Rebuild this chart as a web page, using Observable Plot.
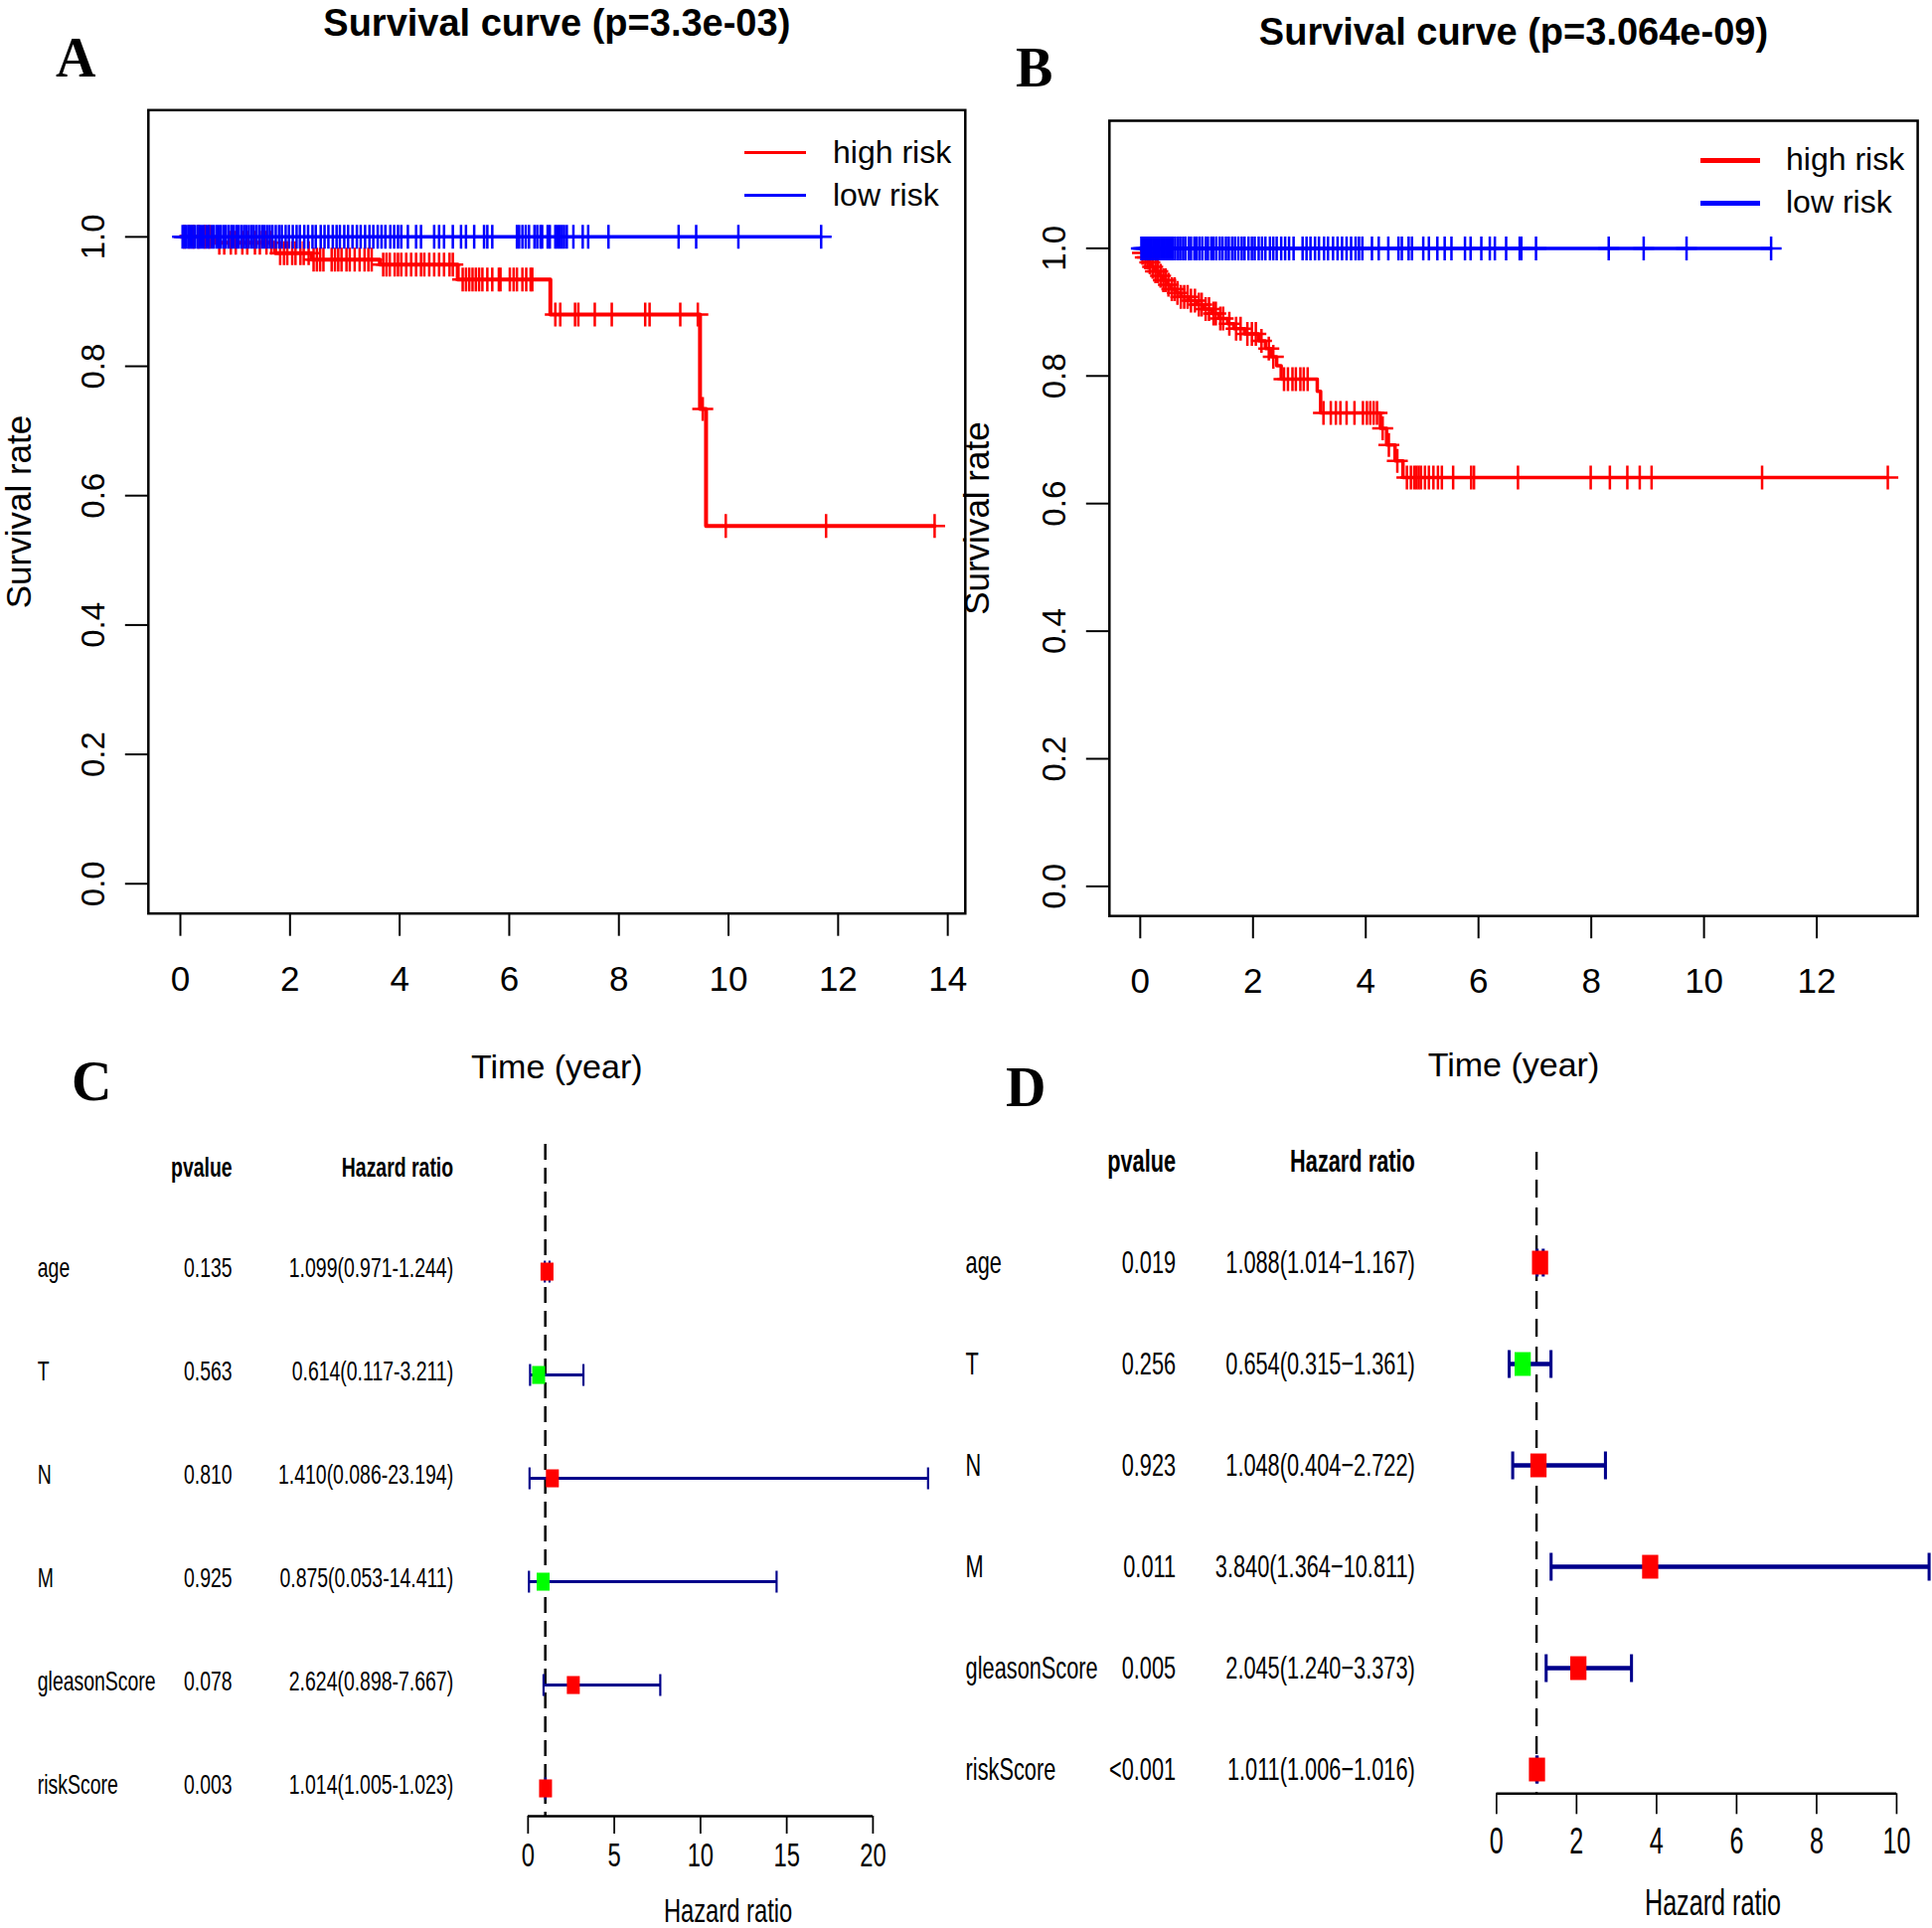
<!DOCTYPE html>
<html><head><meta charset="utf-8">
<script src="https://cdn.jsdelivr.net/npm/d3@7"></script>
<script src="https://cdn.jsdelivr.net/npm/@observablehq/plot@0.6"></script>
<style>
body{margin:0;background:#fff;}
#page{position:relative;width:1944px;height:1940px;overflow:hidden;background:#fff;font-family:"Liberation Sans",Arial,sans-serif;color:#000;}
.letter{position:absolute;font-family:"Liberation Serif","Times New Roman",serif;font-weight:bold;font-size:56px;line-height:1;}
.legline{position:absolute;}
.legtext{position:absolute;font-size:32px;line-height:1;white-space:nowrap;}
</style></head>
<body><div id="page"></div>
<script>
// ---------------- DATA ----------------
const titleA = "Survival curve (p=3.3e-03)";
const titleB = "Survival curve (p=3.064e-09)";
const xLabelKM = "Time (year)";
const yLabelKM = "Survival rate";
const groupNames = ["high risk", "low risk"];
const kmTicksXA = [0, 2, 4, 6, 8, 10, 12, 14];
const kmTicksXB = [0, 2, 4, 6, 8, 10, 12];
const kmTicksY = [0, 0.2, 0.4, 0.6, 0.8, 1.0];

// Panel A, high risk (Kaplan-Meier steps)
const aHighTime = [0, 0.62, 1.73, 2.40, 3.64, 5.06, 6.75, 9.48, 9.59, 13.76];
const aHighSurv = [1, 0.991, 0.975, 0.965, 0.957, 0.934, 0.880, 0.734, 0.553, 0.553];
const aHighCensor = [0.07,0.16,0.24,0.33,0.45,0.53,0.71,0.8,0.92,1.01,1.13,1.22,1.36,1.45,1.57,1.66,
  1.82,1.89,1.95,2.04,2.10,2.19,2.25,2.34,
  2.43,2.49,2.55,2.61,2.76,2.82,2.88,2.94,3.03,3.09,3.18,3.27,3.36,3.43,3.49,
  3.70,3.76,3.82,3.91,3.97,4.03,4.12,4.21,4.30,4.39,4.45,4.54,4.63,4.72,4.81,4.91,4.97,
  5.15,5.21,5.27,5.33,5.39,5.45,5.51,5.60,5.69,5.81,5.84,6.01,6.08,6.14,6.24,6.31,6.39,6.42,
  6.84,6.93,7.20,7.26,7.56,7.87,8.48,8.56,9.12,9.44,9.53,9.95,11.78,13.76];
// Panel A, low risk
const aLowTime = [0, 11.69];
const aLowSurv = [1, 1];
const aLowCensor = [0.04,0.08,0.11,0.15,0.19,0.22,0.26,0.31,0.35,0.39,0.43,0.48,0.52,0.57,0.61,0.66,0.7,0.74,
  0.79,0.83,0.88,0.93,0.97,1.02,1.06,1.11,1.16,1.2,1.25,1.3,1.34,1.39,1.44,1.49,1.53,1.58,1.63,1.68,1.74,1.8,
  1.85,1.92,1.98,2.05,2.12,2.18,2.26,2.33,2.41,2.47,2.56,2.63,2.7,2.78,2.85,2.91,2.99,3.06,3.14,3.22,3.29,
  3.37,3.45,3.52,3.6,3.67,3.74,3.83,3.9,3.97,4.03,4.15,4.30,4.39,4.63,4.72,4.81,4.97,5.12,5.21,5.36,5.54,
  5.60,5.69,6.14,6.18,6.24,6.30,6.36,6.46,6.51,6.57,6.60,6.70,6.74,6.84,6.88,6.92,6.96,7.00,7.05,7.17,7.34,
  7.44,7.81,9.09,9.41,10.18,11.69];

// Panel B, high risk
const bHighTime = [0,0.03,0.08,0.14,0.2,0.27,0.33,0.4,0.47,0.55,0.63,0.72,0.85,1.0,1.12,1.27,1.4,1.55,1.66,1.85,2.1,2.22,2.32,2.42,2.5,3.14,3.2,4.26,4.37,4.52,4.66,13.26];
const bHighSurv = [1,0.993,0.986,0.978,0.971,0.964,0.957,0.95,0.943,0.936,0.93,0.924,0.918,0.912,0.905,0.898,0.89,0.882,0.874,0.866,0.855,0.843,0.83,0.816,0.795,0.776,0.742,0.718,0.692,0.667,0.641,0.641];
const bHighCensor = [0.04,0.09,0.13,0.17,0.22,0.27,0.31,0.36,0.41,0.45,0.5,0.56,0.61,0.66,0.72,0.78,0.84,0.9,
  0.97,1.04,1.09,1.16,1.22,1.3,1.34,1.42,1.47,1.58,1.7,1.78,1.9,1.98,2.05,2.15,2.28,2.36,2.55,2.62,2.7,2.76,
  2.84,2.9,2.97,3.25,3.38,3.47,3.55,3.66,3.8,3.95,4.02,4.08,4.14,4.2,4.3,4.41,4.56,4.73,4.8,4.86,4.9,4.94,
  4.98,5.05,5.12,5.2,5.28,5.35,5.55,5.87,5.92,6.70,7.99,8.33,8.64,8.86,9.07,11.03,13.26];
// Panel B, low risk
const bLowTime = [0, 11.19];
const bLowSurv = [1, 1];
const bLowCensor = [0.02,0.05,0.07,0.1,0.12,0.15,0.18,0.2,0.23,0.26,0.29,0.31,0.34,0.37,0.4,0.43,0.46,0.49,
  0.52,0.55,0.58,0.62,0.67,0.71,0.76,0.8,0.86,0.9,0.96,1.0,1.05,1.1,1.16,1.2,1.26,1.3,1.35,1.41,1.46,1.52,
  1.57,1.63,1.68,1.74,1.8,1.85,1.92,1.98,2.03,2.1,2.16,2.22,2.3,2.36,2.42,2.5,2.57,2.64,2.72,2.88,2.95,3.02,
  3.1,3.17,3.26,3.33,3.42,3.5,3.58,3.66,3.74,3.82,3.88,3.94,4.11,4.23,4.40,4.58,4.64,4.76,4.82,5.02,5.12,
  5.27,5.4,5.52,5.76,5.86,6.05,6.2,6.29,6.49,6.73,6.76,7.02,8.31,8.93,9.69,11.19];

// Forest plots
const variables = ["age", "T", "N", "M", "gleasonScore", "riskScore"];
const headerP = "pvalue";
const headerHR = "Hazard ratio";
const xLabelHR = "Hazard ratio";
const pC = ["0.135", "0.563", "0.810", "0.925", "0.078", "0.003"];
const hrC = [1.099, 0.614, 1.410, 0.875, 2.624, 1.014];
const lowC = [0.971, 0.117, 0.086, 0.053, 0.898, 1.005];
const highC = [1.244, 3.211, 23.194, 14.411, 7.667, 1.023];
const pD = ["0.019", "0.256", "0.923", "0.011", "0.005", "<0.001"];
const hrD = [1.088, 0.654, 1.048, 3.840, 2.045, 1.011];
const lowD = [1.014, 0.315, 0.404, 1.364, 1.240, 1.006];
const highD = [1.167, 1.361, 2.722, 10.811, 3.373, 1.016];
const hrTicksC = [0, 5, 10, 15, 20];
const hrTicksD = [0, 2, 4, 6, 8, 10];

// ---------------- HELPERS ----------------
const FONT = "Liberation Sans, Arial, Helvetica, sans-serif";
const page = document.getElementById("page");
const RED = "#FF0000", BLUE = "#0000FF", GREEN = "#00FF00", NAVY = "#00008B";

const plusSymbol = {draw(ctx, size) {
  const r = Math.sqrt(size / Math.PI);
  ctx.moveTo(-r * 0.88, 0); ctx.lineTo(r * 0.88, 0);
  ctx.moveTo(0, -r); ctx.lineTo(0, r);
}};
const vbarSymbol = {draw(ctx, size) {
  const r = Math.sqrt(size / Math.PI);
  ctx.moveTo(0, -r); ctx.lineTo(0, r);
}};
function stepAt(ts, ss, t) { let v = ss[0]; for (let i = 0; i < ts.length; i++) if (ts[i] <= t) v = ss[i]; return v; }
function place(el, left, top, k) {
  el.style.position = "absolute"; el.style.left = left + "px"; el.style.top = top + "px";
  if (k) { el.style.transformOrigin = "0 0"; el.style.transform = `scaleX(${k})`; }
  page.appendChild(el);
}
const svgStyle = {background: "transparent", overflow: "visible", color: "black", fontFamily: FONT};

// ---------------- KM PANELS ----------------
function kmPanel(o) {
  const marks = [Plot.frame({stroke: "black", strokeWidth: 2.5, fill: "none"})];
  for (const c of o.curves) {
    const line = c.time.map((t, i) => ({t, s: c.surv[i]}));
    const cens = c.censor.map(t => ({t, s: stepAt(c.time, c.surv, t)}));
    marks.push(Plot.line(line, {x: "t", y: "s", curve: "step-after", stroke: c.color, strokeWidth: c.lw}));
    marks.push(Plot.dot(cens, {x: "t", y: "s", symbol: plusSymbol, r: 12, stroke: c.color, strokeWidth: 2.5, fill: "none"}));
  }
  marks.push(
    Plot.axisX({ticks: o.xTicks, tickSize: 23, tickPadding: o.xPad, fontSize: 35, strokeWidth: 2, label: null}),
    Plot.axisY({ticks: kmTicksY, tickFormat: d3.format(".1f"), tickSize: 23, tickRotate: -90, tickPadding: 21, fontSize: 33, strokeWidth: 2, label: null}),
    Plot.text([o.title], {text: d => d, frameAnchor: "top", dy: o.titleDy, fontSize: 38, fontWeight: "bold"}),
    Plot.text([xLabelKM], {text: d => d, frameAnchor: "bottom", dy: o.xlabDy, fontSize: 34}),
    Plot.text([yLabelKM], {text: d => d, frameAnchor: "left", textAnchor: "middle", dx: o.ylabDx, rotate: -90, fontSize: 35})
  );
  return Plot.plot({
    width: o.width, height: o.height,
    marginLeft: o.mL, marginRight: o.mR, marginTop: o.mT, marginBottom: o.mB,
    x: {domain: o.xDomain}, y: {domain: o.yDomain},
    style: svgStyle, marks
  });
}

place(kmPanel({
  width: 980, height: 1110, mL: 148.8, mR: 9.2, mT: 110.3, mB: 191.3,
  xDomain: [-0.584, 14.32], yDomain: [-0.046, 1.196], xTicks: kmTicksXA, xPad: 30,
  title: titleA, titleDy: -102, xlabDy: 166, ylabDx: -130,
  curves: [
    {time: aHighTime, surv: aHighSurv, censor: aHighCensor, color: RED, lw: 4},
    {time: aLowTime, surv: aLowSurv, censor: aLowCensor, color: BLUE, lw: 3.5}
  ]
}), 0, 0);

place(kmPanel({
  width: 989, height: 1110, mL: 160.8, mR: 14.9, mT: 121, mB: 188.8,
  xDomain: [-0.547, 13.79], yDomain: [-0.0464, 1.2], xTicks: kmTicksXB, xPad: 29,
  title: titleB, titleDy: -103, xlabDy: 161, ylabDx: -133,
  curves: [
    {time: bHighTime, surv: bHighSurv, censor: bHighCensor, color: RED, lw: 3.5},
    {time: bLowTime, surv: bLowSurv, censor: bLowCensor, color: BLUE, lw: 3.5}
  ]
}), 955, 0);

// legends (HTML)
function legend(x1, x2, xt, ys, lw) {
  [RED, BLUE].forEach((col, i) => {
    const l = document.createElement("div"); l.className = "legline";
    Object.assign(l.style, {left: x1 + "px", top: (ys[i] - lw / 2) + "px", width: (x2 - x1) + "px", height: lw + "px", background: col});
    page.appendChild(l);
    const t = document.createElement("div"); t.className = "legtext"; t.textContent = groupNames[i];
    Object.assign(t.style, {left: xt + "px", top: (ys[i] - 17) + "px"});
    page.appendChild(t);
  });
}
legend(749, 811, 838, [153.7, 196.5], 3);
legend(1711, 1771, 1797, [161.4, 204.3], 5);

// ---------------- FOREST PANELS ----------------
function forest(o) {
  const rows = variables.map((name, i) => ({
    name, i, p: o.p[i], hr: o.hr[i], low: o.low[i], high: o.high[i],
    hrText: `${o.hr[i].toFixed(3)}(${o.low[i].toFixed(3)}${o.dash}${o.high[i].toFixed(3)})`
  }));
  const ft = o.tableFont;
  const table = Plot.plot({
    width: o.tableWidth, height: 840, marginLeft: 0, marginRight: 0, marginTop: o.mT, marginBottom: o.mB,
    y: {domain: o.yDomain, axis: null},
    style: svgStyle,
    marks: [
      Plot.text(rows, {y: "i", text: "name", frameAnchor: "left", dx: o.cols.label, dy: o.textDy, textAnchor: "start", fontSize: ft}),
      Plot.text(rows, {y: "i", text: "p", frameAnchor: "left", dx: o.cols.p, dy: o.textDy, textAnchor: "end", fontSize: ft}),
      Plot.text(rows, {y: "i", text: "hrText", frameAnchor: "left", dx: o.cols.hr, dy: o.textDy, textAnchor: "end", fontSize: ft}),
      Plot.text([headerP], {y: () => o.headerRow, text: d => d, frameAnchor: "left", dx: o.cols.p, textAnchor: "end", fontSize: ft, fontWeight: "bold"}),
      Plot.text([headerHR], {y: () => o.headerRow, text: d => d, frameAnchor: "left", dx: o.cols.hr, textAnchor: "end", fontSize: ft, fontWeight: "bold"})
    ]
  });
  place(table, o.tableLeft, 1100, o.k);

  const caps = rows.flatMap(d => [{x: d.low, i: d.i}, {x: d.high, i: d.i}]);
  const chart = Plot.plot({
    width: o.width, height: 840, marginLeft: o.mL, marginRight: o.mR, marginTop: o.mT, marginBottom: o.mB,
    x: {domain: [0, d3.max(o.high)]},
    y: {domain: o.yDomain, axis: null},
    style: svgStyle,
    marks: [
      Plot.ruleX([1], {stroke: "black", strokeWidth: 3.5, strokeDasharray: o.dashArray}),
      Plot.ruleY([o.yDomain[0]], {x1: 0, x2: d3.max(o.ticks), stroke: "black", strokeWidth: 2.5}),
      Plot.axisX({ticks: o.ticks, tickSize: o.tickSize, tickPadding: o.tickPad, fontSize: o.tickFont, strokeWidth: 2.5, label: null}),
      Plot.text([xLabelHR], {text: d => d, frameAnchor: "bottom", dy: o.xlabDy, fontSize: o.xlabFont}),
      Plot.ruleY(rows, {y: "i", x1: "low", x2: "high", stroke: NAVY, strokeWidth: o.lw}),
      Plot.dot(caps, {x: "x", y: "i", symbol: vbarSymbol, r: o.capR, stroke: NAVY, strokeWidth: o.lw, fill: "none"}),
      Plot.dot(rows.filter(d => d.hr > 1), {x: "hr", y: "i", symbol: "square", r: o.sqR, fill: RED, stroke: "none"}),
      Plot.dot(rows.filter(d => d.hr <= 1), {x: "hr", y: "i", symbol: "square", r: o.sqR, fill: GREEN, stroke: "none"})
    ]
  });
  place(chart, o.chartLeft, 1100, o.k);
}

forest({
  p: pC, hr: hrC, low: lowC, high: highC, dash: "-", ticks: hrTicksC,
  k: 0.72, tableLeft: 0, tableWidth: 660, cols: {label: 52, p: 324, hr: 633}, tableFont: 27, textDy: -3, headerRow: -1,
  chartLeft: 480, width: 660, mL: 70.8, mR: 30.2, mT: 51, mB: 113, yDomain: [5.269, -1.231],
  tickSize: 18, tickPad: 9, tickFont: 33, xlabDy: 106, xlabFont: 33,
  lw: 3, capR: 11, sqR: 10.2, dashArray: "16,8"
});
forest({
  p: pD, hr: hrD, low: lowD, high: highD, dash: "\u2212", ticks: hrTicksD,
  k: 0.68, tableLeft: 940, tableWidth: 740, cols: {label: 46, p: 357, hr: 711}, tableFont: 32, textDy: 0, headerRow: -1,
  chartLeft: 1440, width: 740, mL: 96.3, mR: 3.6, mT: 59, mB: 135.7, yDomain: [5.238, -1.088],
  tickSize: 21, tickPad: 13, tickFont: 37, xlabDy: 122, xlabFont: 37,
  lw: 4.5, capR: 14, sqR: 13.5, dashArray: "18,10"
});

// panel letters
[["A", 56, 30], ["B", 1022, 40], ["C", 72, 1060], ["D", 1012, 1066]].forEach(([t, x, y]) => {
  const d = document.createElement("div"); d.className = "letter"; d.textContent = t;
  d.style.left = x + "px"; d.style.top = y + "px"; page.appendChild(d);
});
</script>
</body></html>
